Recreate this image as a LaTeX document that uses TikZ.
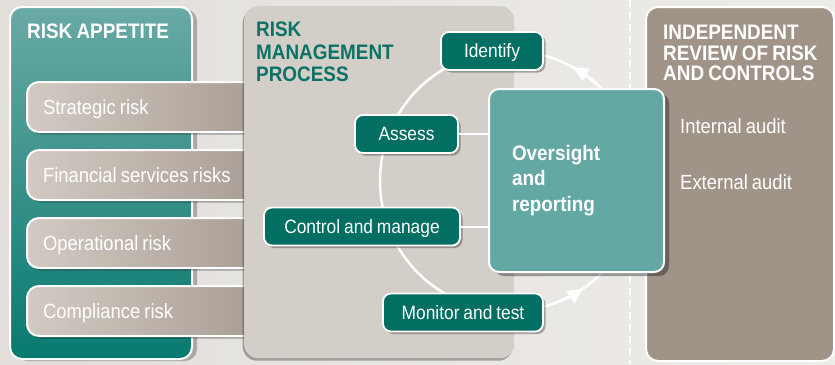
\documentclass[tikz,border=0pt]{standalone}
\usepackage{fontspec}
\setmainfont{Liberation Sans}[FakeStretch=0.9,WordSpace=0.8]
\usetikzlibrary{shadows,arrows.meta}
\definecolor{bgL}{HTML}{E2DFDB}
\definecolor{bgR}{HTML}{EEECE9}
\definecolor{raTop}{HTML}{69AAA5}
\definecolor{raBot}{HTML}{087A6F}
\definecolor{pillL}{HTML}{D2CAC3}
\definecolor{pillR}{HTML}{A3988E}
\definecolor{mpCol}{HTML}{D3CEC8}
\definecolor{cycTeal}{HTML}{036E62}
\definecolor{ovCol}{HTML}{63A8A3}
\definecolor{rpCol}{HTML}{A09489}
\definecolor{titleTeal}{HTML}{0B7265}
\begin{document}
\begin{tikzpicture}[x=1pt,y=1pt,
  shad/.style={drop shadow={shadow xshift=2.5pt,shadow yshift=-2.5pt,opacity=0.3,fill=black}},
  panel/.style={draw=white,line width=2pt,rounded corners=12pt,anchor=north west,inner sep=0pt},
  pill/.style={draw=white,line width=2pt,rounded corners=12pt,left color=pillL,right color=pillR,
    anchor=north west,minimum height=50pt,text width=230pt,inner xsep=16pt,align=flush left,text=white,
    font=\fontsize{20.5}{22}\selectfont,text height=15pt,text depth=0pt,shad},
  cyc/.style={draw=white,line width=1.8pt,fill=cycTeal,rounded corners=8pt,text=white,
    font=\fontsize{19.3}{20}\selectfont,text height=13.6pt,text depth=0pt,minimum height=38pt,
    drop shadow={shadow xshift=2.5pt,shadow yshift=-2.5pt,opacity=0.3,fill=black}},
  titlefont/.style={font=\fontsize{21}{22}\bfseries\selectfont},
  bodytext/.style={font=\fontsize{20.5}{22}\selectfont,text=white,inner sep=0pt,anchor=base west},
  conn/.style={draw=white,line width=2.5pt},
  tip/.style={conn,-{Triangle[length=15pt,width=14pt]}}]
\useasboundingbox (0,0) rectangle (835,-364);
\fill[left color=bgL,right color=bgR] (0,0) rectangle (835,-364);
% dashed divider
\coordinate (dtop) at (630,0);
\coordinate (dbot) at (630,-364);
\draw[white,line width=1.6pt,dash pattern=on 7pt off 5pt] (dtop) -- (dbot);
% left panel
\node[panel,top color=raTop,bottom color=raBot,minimum width=182pt,minimum height=352pt,
  drop shadow={shadow xshift=5pt,shadow yshift=-2pt,opacity=0.25,fill=black}] (ra) at (9,-6) {};
\node[titlefont,text=white,anchor=north west,inner sep=0pt] (ratitle) at (27,-24) {RISK APPETITE};
% risk pills
\node[pill] (strat) at (26,-81) {Strategic risk};
\node[pill] (fin) at (26,-149) {Financial services risks};
\node[pill] (oper) at (26,-217) {Operational risk};
\node[pill] (comp) at (26,-285) {Compliance risk};
% right panel
\node[panel,fill=rpCol,minimum width=188pt,minimum height=354pt] (rp) at (645,-6) {};
\node[titlefont,text=white,anchor=north west,inner sep=0pt,align=left,
  font=\fontsize{21}{20.5}\bfseries\selectfont] (rptitle) at (663,-25)
  {INDEPENDENT\\REVIEW OF RISK\\AND CONTROLS};
\node[bodytext] (ia) at (680,-133) {Internal audit};
\node[bodytext] (ea) at (680,-189) {External audit};
% middle panel
\node[anchor=north west,inner sep=0pt,fill=mpCol,rounded corners=14pt,minimum width=270pt,minimum height=352pt,
  drop shadow={shadow xshift=-1.5pt,shadow yshift=-2.5pt,opacity=0.3,fill=black}] (mp) at (244,-6) {};
\node[anchor=north west,inner sep=0pt,align=left,text=titleTeal,
  font=\fontsize{21}{22.5}\bfseries\selectfont] (mptitle) at (256,-22) {RISK\\MANAGEMENT\\PROCESS};
% cycle
\coordinate (cc) at (510,-181);
\draw[conn] (cc) circle (130);
\draw[tip] (cc) ++(45:130) arc[start angle=45,end angle=61,radius=130];
\draw[tip] (cc) ++(-72:130) arc[start angle=-72,end angle=-56,radius=130];
\node[draw=white,line width=2pt,fill=ovCol,rounded corners=10pt,minimum width=175pt,minimum height=183pt,
  text width=129pt,inner xsep=23pt,align=flush left,text=white,font=\fontsize{21}{25.5}\bfseries\selectfont,
  drop shadow={shadow xshift=5pt,shadow yshift=-4pt,opacity=0.35,fill=black}] (ov) at (576.5,-180.5)
  {Oversight\\and\\reporting};
\node[cyc,minimum width=102pt] (id) at (492,-51) {Identify};
\node[cyc,minimum width=103pt] (as) at (406.5,-134) {Assess};
\node[cyc,minimum width=196pt] (cm) at (362,-226.5) {Control and manage};
\node[cyc,minimum width=160pt] (mt) at (463,-312.5) {Monitor and test};
\draw[conn,line width=2pt] (as.east) -- (as.east -| ov.west);
\draw[conn,line width=2pt] (cm.east) -- (cm.east -| ov.west);
\end{tikzpicture}
\end{document}
